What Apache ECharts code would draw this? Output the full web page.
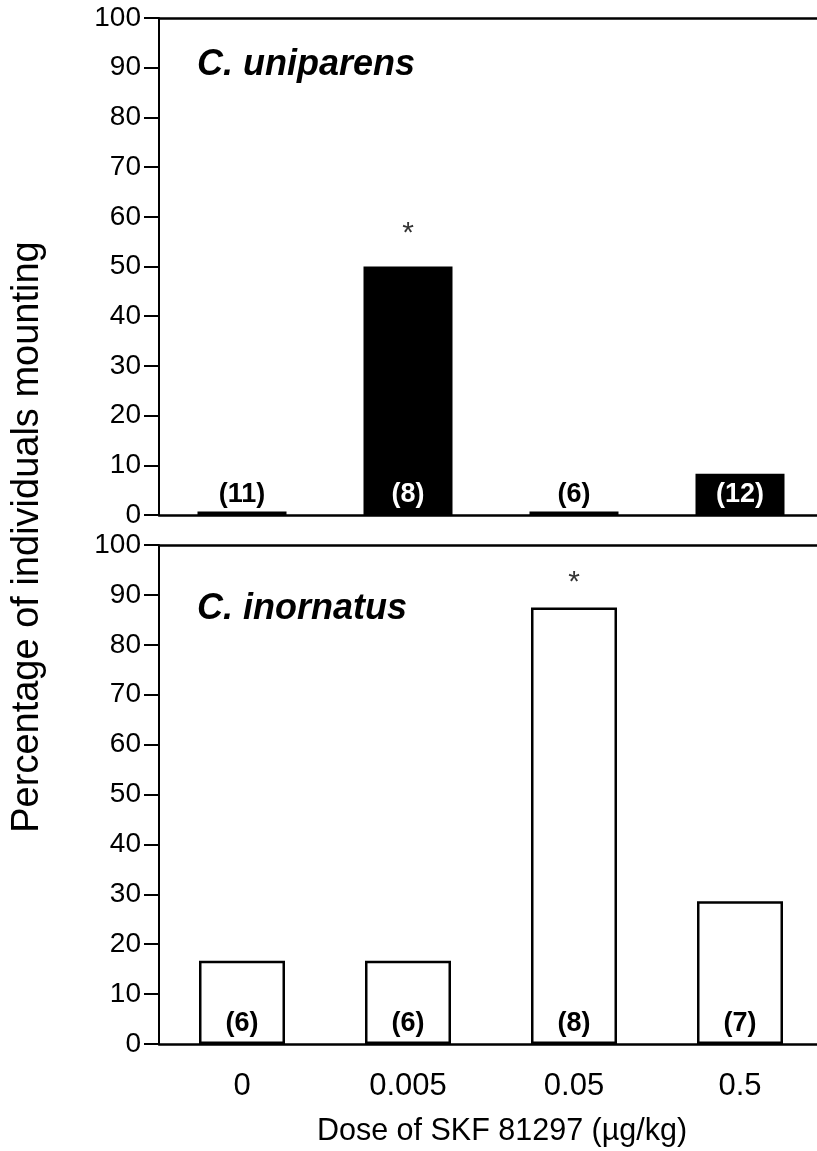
<!DOCTYPE html>
<html>
<head>
<meta charset="utf-8">
<script src="https://cdn.jsdelivr.net/npm/echarts@6/dist/echarts.min.js"></script>
<style>
html,body{margin:0;padding:0;background:#fff;}
#c{width:817px;height:1151px;}
</style>
</head>
<body>
<div id="c"></div>
<script>
// ---- data ----
const doses = ['0', '0.005', '0.05', '0.5'];
const uniparensPct = [0.7, 50, 0.7, 8.3];
const inornatusPct = [16.7, 16.7, 87.5, 28.6];
const uniparensN = ['(11)', '(8)', '(6)', '(12)'];
const inornatusN = ['(6)', '(6)', '(8)', '(7)'];
const uniparensSig = [false, true, false, false];
const inornatusSig = [false, false, true, false];
const yMin = 0, yMax = 100, yStep = 10;
const panelTitles = ['C. uniparens', 'C. inornatus'];
const xTitle = 'Dose of SKF 81297 (\u00b5g/kg)';
const yTitle = 'Percentage of individuals mounting';

const FONT = '"Liberation Sans", Arial, Helvetica, sans-serif';
const chart = echarts.init(document.getElementById('c'), null, {renderer: 'canvas'});

const gridLeft = 159, gridWidth = 664;
const grids = [
  {left: gridLeft, width: gridWidth, top: 18, height: 497, outerBoundsMode: 'none', containLabel: false},
  {left: gridLeft, width: gridWidth, top: 545, height: 499, outerBoundsMode: 'none', containLabel: false}
];

function yAxis(gi) {
  return {
    type: 'value', gridIndex: gi, min: yMin, max: yMax, interval: yStep,
    axisLine: {show: true, lineStyle: {color: '#000', width: 2}},
    axisTick: {show: true, length: 15, lineStyle: {color: '#000', width: 2}},
    axisLabel: {color: '#000', fontFamily: FONT, fontSize: 28, margin: 18},
    splitLine: {show: false}
  };
}
function xAxisBottom(gi, showLabels) {
  return {
    type: 'category', gridIndex: gi, data: doses, position: 'bottom',
    axisLine: {show: true, onZero: false, lineStyle: {color: '#000', width: 2.5}},
    axisTick: {show: false},
    axisLabel: {show: showLabels, color: '#000', fontFamily: FONT, fontSize: 31, margin: 27},
    splitLine: {show: false}
  };
}
function xAxisTop(gi) {
  return {
    type: 'category', gridIndex: gi, data: doses, position: 'top',
    axisLine: {show: true, onZero: false, lineStyle: {color: '#000', width: 2.5}},
    axisTick: {show: false}, axisLabel: {show: false}, splitLine: {show: false}
  };
}

function countLabels(vals, labels, dark) {
  return vals.map((v, i) => ({
    value: v,
    label: {
      show: true, position: 'insideBottom', distance: 7,
      formatter: labels[i],
      color: (dark && v > 5) ? '#fff' : '#000',
      fontFamily: FONT, fontWeight: 'bold', fontSize: 27
    }
  }));
}
function sigPoints(vals, sig) {
  return vals.map((v, i) => sig[i] ? [i, v] : null).filter(d => d);
}

const option = {
  backgroundColor: '#fff',
  animation: false,
  grid: grids,
  xAxis: [xAxisBottom(0, false), xAxisTop(0), xAxisBottom(1, true), xAxisTop(1)],
  yAxis: [yAxis(0), yAxis(1)],
  graphic: [
    {type: 'text', left: 197, top: 47, style: {text: panelTitles[0], font: 'italic bold 36px ' + FONT, fill: '#000'}},
    {type: 'text', left: 197, top: 591, style: {text: panelTitles[1], font: 'italic bold 36px ' + FONT, fill: '#000'}},
    {type: 'text', x: 502, y: 1132, style: {text: xTitle, font: '30.5px ' + FONT, fill: '#000', align: 'center', verticalAlign: 'middle'}},
    {type: 'text', x: 28, y: 537, rotation: Math.PI / 2, style: {text: yTitle, font: '38px ' + FONT, fill: '#000', align: 'center', verticalAlign: 'middle'}}
  ],
  series: [
    {
      type: 'bar', xAxisIndex: 0, yAxisIndex: 0, barWidth: 89,
      itemStyle: {color: '#000'},
      data: countLabels(uniparensPct, uniparensN, true)
    },
    {
      type: 'bar', xAxisIndex: 2, yAxisIndex: 1, barWidth: 86,
      itemStyle: {color: '#fff', borderColor: '#000', borderWidth: 2.5},
      data: countLabels(inornatusPct, inornatusN, false)
    },
    {
      type: 'scatter', xAxisIndex: 0, yAxisIndex: 0, symbolSize: 0,
      data: sigPoints(uniparensPct, uniparensSig),
      label: {show: true, position: 'top', distance: 18, formatter: '*', color: '#000', fontFamily: FONT, fontSize: 30}
    },
    {
      type: 'scatter', xAxisIndex: 2, yAxisIndex: 1, symbolSize: 0,
      data: sigPoints(inornatusPct, inornatusSig),
      label: {show: true, position: 'top', distance: 10, formatter: '*', color: '#000', fontFamily: FONT, fontSize: 30}
    }
  ]
};
chart.setOption(option);
</script>
</body>
</html>
